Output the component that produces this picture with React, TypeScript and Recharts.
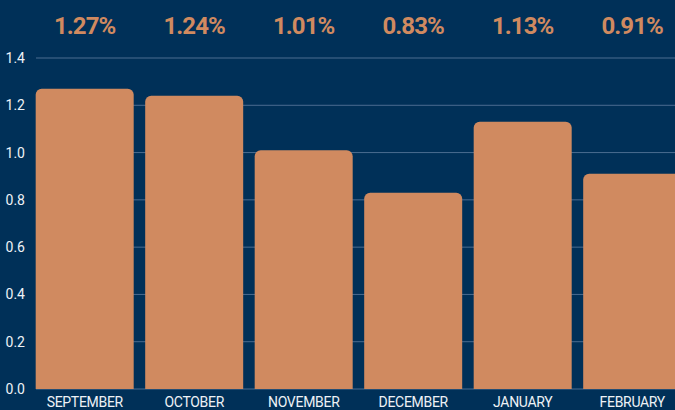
import { BarChart, Bar, XAxis, YAxis, CartesianGrid, LabelList } from "recharts";

const months = ["SEPTEMBER", "OCTOBER", "NOVEMBER", "DECEMBER", "JANUARY", "FEBRUARY"];
const rates = [1.27, 1.24, 1.01, 0.83, 1.13, 0.91];
const yTicks = [0, 0.2, 0.4, 0.6, 0.8, 1.0, 1.2, 1.4];

const data = months.map((m, i) => ({ month: m, rate: rates[i] }));

const BG = "#003058";
const BAR = "#D08A60";
const FONT = "Roboto, 'Noto Sans', sans-serif";

const renderTopLabel = (props: any) => {
  const { x, width, value } = props;
  return (
    <text
      x={Number(x) + Number(width) / 2}
      y={26}
      fill={BAR}
      textAnchor="middle"
      dominantBaseline="central"
      fontSize={24}
      fontWeight="bold"
      fontFamily={FONT}
      letterSpacing={-0.9}
    >
      {`${Number(value).toFixed(2)}%`}
    </text>
  );
};

export default function App() {
  return (
    <div
      style={{
        position: "fixed",
        left: 0,
        top: 0,
        width: 675,
        height: 410,
        overflow: "hidden",
        background: BG,
      }}
    >
      <BarChart
        width={691}
        height={430}
        data={data}
        margin={{ top: 58, right: 4, bottom: 0, left: 0 }}
        barCategoryGap="5.2%"
        style={{ fontFamily: FONT }}
      >
        <CartesianGrid vertical={false} stroke="#4a6c90" strokeWidth={1} />
        <XAxis
          dataKey="month"
          axisLine={false}
          tickLine={false}
          tickSize={6}
          tickMargin={2}
          height={41}
          interval={0}
          padding={{ left: -6, right: 0 }}
          tick={{ fill: "#eef2f6", fontSize: 14, letterSpacing: -0.3 }}
        />
        <YAxis
          width={36}
          domain={[0, 1.4]}
          ticks={yTicks}
          axisLine={false}
          tickLine={false}
          tickSize={6}
          tickMargin={5}
          tickFormatter={(v: number) => v.toFixed(1)}
          tick={{ fill: "#eef2f6", fontSize: 14 }}
        />
        <Bar dataKey="rate" fill={BAR} radius={[6, 6, 0, 0]} isAnimationActive={false}>
          <LabelList dataKey="rate" content={renderTopLabel} />
        </Bar>
      </BarChart>
    </div>
  );
}
